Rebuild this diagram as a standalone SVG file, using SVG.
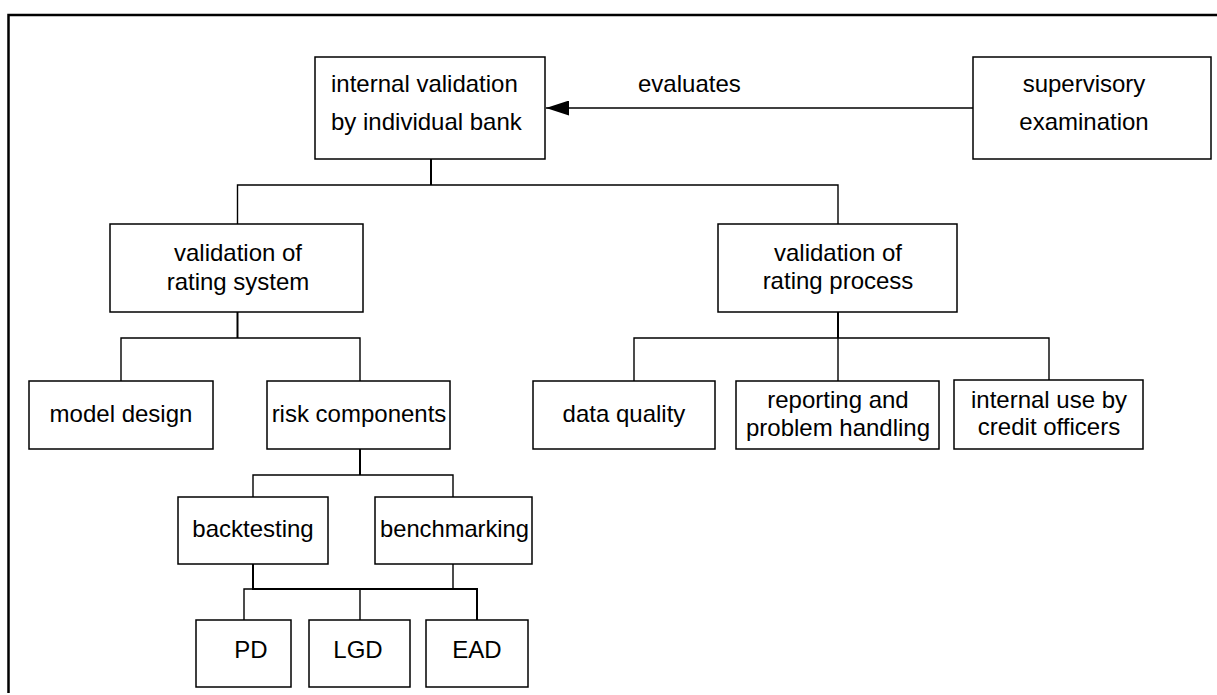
<svg xmlns="http://www.w3.org/2000/svg" width="1217" height="695" viewBox="0 0 1217 695">
<style>
.box{fill:#fff;stroke:#000;stroke-width:1.5}
.c{fill:none;stroke:#000;stroke-width:1.4}
.ct{fill:none;stroke:#000;stroke-width:2}
text{font-family:"Liberation Sans",Arial,sans-serif;font-size:24px;fill:#000}
.m{text-anchor:middle}
</style>
<defs>
<marker id="ah" markerUnits="userSpaceOnUse" viewBox="0 0 23 15" markerWidth="23" markerHeight="15" refX="23" refY="7.5" orient="auto">
<path d="M0,0 L23,7.5 L0,15 z" fill="#000"/>
</marker>
</defs>
<rect width="1217" height="695" fill="#fff"/>
<path d="M8.5,693 V15 H1217" fill="none" stroke="#000" stroke-width="2.5"/>
<g id="connectors">
<line class="c" x1="973" y1="108" x2="546" y2="108" marker-end="url(#ah)"/>
<text x="638" y="92">evaluates</text>
<path class="ct" d="M431,159 V185"/>
<path class="c" d="M237.5,224 V185 H838 V224"/>
<path class="ct" d="M237.5,312 V338"/>
<path class="c" d="M121,381 V338 H360 V381"/>
<path class="ct" d="M838,312 V338"/>
<path class="c" d="M634,381 V338 H1049 V381 M838,338 V381"/>
<path class="ct" d="M360,449 V475"/>
<path class="c" d="M253,497 V475 H453 V497"/>
<path class="ct" d="M253,564 V589 H477 V620"/>
<path class="c" d="M453,564 V589 M253,589 H244 V620 M360,589 V620"/>
</g>
<g id="n-internal">
<rect class="box" x="315" y="57" width="230" height="102"/>
<text x="331" y="92">internal validation</text>
<text x="331" y="130">by individual bank</text>
</g>
<g id="n-supervisory">
<rect class="box" x="973" y="57" width="238" height="102"/>
<text class="m" x="1084" y="92">supervisory</text>
<text class="m" x="1084" y="130">examination</text>
</g>
<g id="n-system">
<rect class="box" x="110" y="224" width="253" height="88"/>
<text class="m" x="238" y="261">validation of</text>
<text class="m" x="238" y="290">rating system</text>
</g>
<g id="n-process">
<rect class="box" x="718" y="224" width="239" height="88"/>
<text class="m" x="838" y="261">validation of</text>
<text class="m" x="838" y="289">rating process</text>
</g>
<g id="n-model">
<rect class="box" x="29" y="381" width="184" height="68"/>
<text class="m" x="121" y="422">model design</text>
</g>
<g id="n-risk">
<rect class="box" x="267" y="381" width="183" height="68"/>
<text class="m" x="359" y="422">risk components</text>
</g>
<g id="n-data">
<rect class="box" x="533" y="381" width="182" height="68"/>
<text class="m" x="624" y="422">data quality</text>
</g>
<g id="n-reporting">
<rect class="box" x="736" y="381" width="203" height="68"/>
<text class="m" x="838" y="408">reporting and</text>
<text class="m" x="838" y="436">problem handling</text>
</g>
<g id="n-internaluse">
<rect class="box" x="954" y="380" width="189" height="69"/>
<text class="m" x="1049" y="408">internal use by</text>
<text class="m" x="1049" y="435">credit officers</text>
</g>
<g id="n-backtesting">
<rect class="box" x="178" y="497" width="150" height="67"/>
<text class="m" x="253" y="537">backtesting</text>
</g>
<g id="n-benchmarking">
<rect class="box" x="375" y="497" width="157" height="67"/>
<text x="380" y="537" textLength="149" lengthAdjust="spacingAndGlyphs">benchmarking</text>
</g>
<g id="n-pd">
<rect class="box" x="196" y="620" width="95" height="67"/>
<text class="m" x="251" y="658">PD</text>
</g>
<g id="n-lgd">
<rect class="box" x="309" y="620" width="101" height="67"/>
<text class="m" x="358" y="658">LGD</text>
</g>
<g id="n-ead">
<rect class="box" x="426" y="620" width="102" height="67"/>
<text class="m" x="477" y="658">EAD</text>
</g>
</svg>
